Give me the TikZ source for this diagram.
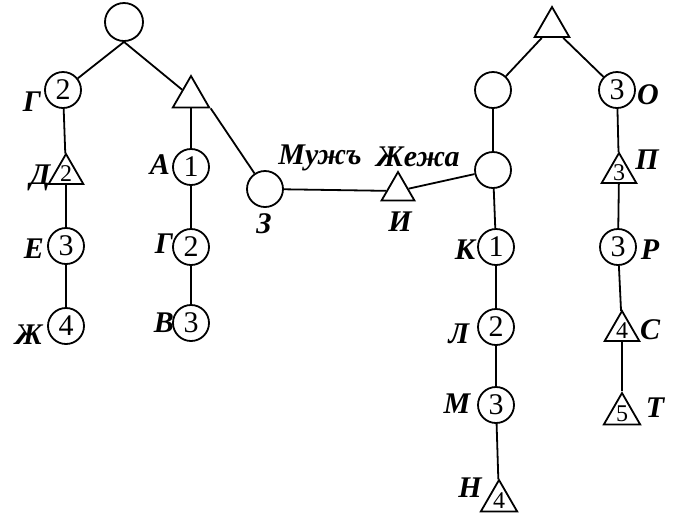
\documentclass[tikz,border=0pt]{standalone}
\usepackage{fontspec}
\setmainfont{Liberation Serif}
\usetikzlibrary{shapes.geometric}

\begin{document}
\begin{tikzpicture}[x=0.5pt,y=-0.5pt,node distance=40pt,line width=0.9pt,
  pers/.style={draw,circle,minimum size=18pt,inner sep=0pt,font=\fontsize{15}{15}\selectfont},
  tri/.style={draw,regular polygon,regular polygon sides=3,minimum size=20pt,inner sep=0pt},
  tnum/.style={font=\fontsize{12}{12}\selectfont,inner sep=0pt},
  lbl/.style={font=\fontsize{15}{15}\selectfont\bfseries\itshape,inner sep=0pt},
  word/.style={font=\fontsize{15}{15}\selectfont\bfseries\itshape,inner sep=0pt}]
\useasboundingbox (0,0) rectangle (675,516);

% left family
\node[pers,minimum size=19pt] (topl) at (124,22) {};
\node[pers] (ge) at (63,90) {2};
\node[tri,below of=ge,yshift=-2pt,xshift=1.5pt,label={[tnum]center:2}] (de) {};
\node[pers,below of=de,yshift=4pt] (ye) {3};
\node[pers,below of=ye] (zhe) {4};
\node[tri,minimum size=21pt] (tril) at (191,97) {};
\node[pers,below of=tril,yshift=5pt] (a) {1};
\node[pers,below of=a] (be) {2};
\node[pers,below of=be,yshift=2pt] (ve) {3};

% the couple
\node[pers] (ze) at (265,189) {};
\node[tri,minimum size=19pt] (i) at (398,191) {};

% right family
\node[tri] (topr) at (552,27) {};
\node[pers] (lefr) at (493,90) {};
\node[pers] (o) at (617,90) {3};
\node[pers,below of=lefr] (midr) {};
\node[pers,below of=midr,yshift=1.5pt,xshift=1.5pt] (ka) {1};
\node[pers,below of=ka] (el) {2};
\node[pers,below of=el,yshift=1pt] (em) {3};
\node[tri,minimum size=21pt,below of=em,yshift=-8pt,xshift=1.5pt,label={[tnum]center:4}] (en) {};
\node[tri,below of=o,yshift=-1.5pt,xshift=1pt,label={[tnum]center:3}] (pe) {};
\node[pers,below of=pe,yshift=3pt,xshift=-0.5pt] (er) {3};
\node[tri,below of=er,yshift=-2pt,xshift=2pt,label={[tnum]center:4}] (es) {};
\node[tri,minimum size=21pt,below of=es,yshift=-1.5pt,label={[tnum]center:5}] (te) {};

% letters
\node[lbl] (lge) at (32,102) {Г};
\node[lbl] (lde) at (40,178) {Д};
\node[lbl] (lye) at (34,249) {Е};
\node[lbl] (lzhe) at (29,335) {Ж};
\node[lbl] (la) at (160,165) {А};
\node[lbl] (lbe) at (164,244) {Г};
\node[lbl] (lve) at (164,323) {В};
\node[lbl] (lze) at (264,224) {З};
\node[lbl] (li) at (400,222) {И};
\node[word] (husb) at (320,158) {Мужъ};
\node[word] (wife) at (418,157) {Жежа};
\node[lbl] (lka) at (465,250) {К};
\node[lbl] (lel) at (459,334) {Л};
\node[lbl] (lem) at (457,404) {М};
\node[lbl] (len) at (470,488) {Н};
\node[lbl] (lo) at (648,95) {О};
\node[lbl] (lpe) at (647,160) {П};
\node[lbl] (ler) at (650,250) {Р};
\node[lbl] (les) at (650,330) {С};
\node[lbl] (lte) at (655,408) {Т};

\draw (topl.south) -- (ge);
\draw (topl.south) -- (tril);
\draw (ge) -- (de);
\draw (de) -- (ye);
\draw (ye) -- (zhe);
\draw (tril) -- (a);
\draw (a) -- (be);
\draw (be) -- (ve);
\draw (tril.corner 3) -- (ze);
\draw (ze) -- (i);
\draw (i) -- (midr);
\draw (topr) -- (lefr);
\draw (topr) -- (o);
\draw (lefr) -- (midr);
\draw (midr) -- (ka);
\draw (ka) -- (el);
\draw (el) -- (em);
\draw (em) -- (en);
\draw (o) -- (pe);
\draw (pe) -- (er);
\draw (er) -- (es);
\draw (es) -- (te);
\end{tikzpicture}
\end{document}
